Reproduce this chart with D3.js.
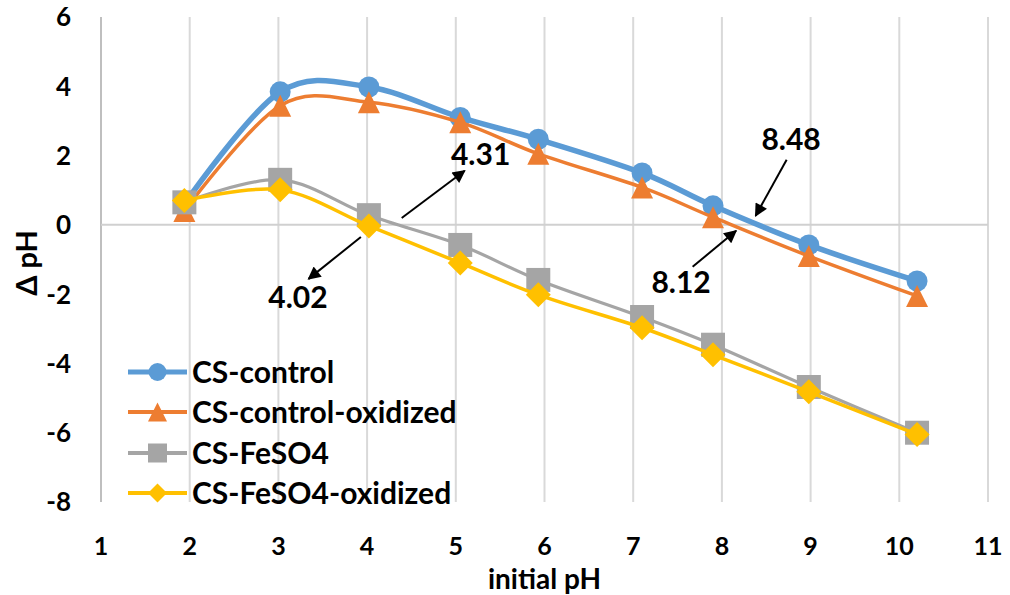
<!DOCTYPE html>
<html>
<head>
<meta charset="utf-8">
<script src="https://cdn.jsdelivr.net/npm/d3@7/dist/d3.min.js"></script>
<style>
  html, body { margin: 0; padding: 0; background: #fff; }
  svg { display: block; font-family: Lato, "Open Sans", sans-serif; font-weight: 700; }
</style>
</head>
<body>
<svg id="chart" width="1010" height="595"></svg>
<script>
// Initial pH of each run (x) and the resulting change in pH for each sample
const initialPH = [1.94, 3.02, 4.02, 5.05, 5.93, 7.1, 7.9, 8.98, 10.2];
const csControl = [0.6, 3.84, 3.98, 3.1, 2.47, 1.5, 0.55, -0.58, -1.62];
const csControlOxidized = [0.4, 3.44, 3.54, 2.96, 2.05, 1.08, 0.22, -0.9, -2.05];
const csFeSO4 = [0.65, 1.3, 0.28, -0.58, -1.59, -2.66, -3.46, -4.68, -6.0];
const csFeSO4Oxidized = [0.7, 1.01, -0.03, -1.1, -2.02, -2.97, -3.75, -4.82, -6.05];

const seriesNames = ["CS-control", "CS-control-oxidized", "CS-FeSO4", "CS-FeSO4-oxidized"];
const seriesValues = [csControl, csControlOxidized, csFeSO4, csFeSO4Oxidized];

const xTicks = [1, 2, 3, 4, 5, 6, 7, 8, 9, 10, 11];
const yTicks = [6, 4, 2, 0, -2, -4, -6, -8];

// Zero-crossing callouts: label, label anchor, arrow tail, arrow head (data units)
const calloutLabels = ["4.31", "4.02", "8.48", "8.12"];
const calloutText = [[5.28, 1.73], [3.22, -2.40], [8.78, 2.17], [7.54, -1.96]];
const calloutTail = [[4.39, 0.2], [3.93, -0.35], [8.73, 1.88], [7.67, -1.21]];
const calloutHead = [[5.10, 1.56], [3.34, -1.56], [8.38, 0.26], [8.16, -0.17]];

const styles = [
  { color: "#5B9BD5", width: 5.5, marker: "circle", size: 10.5 },
  { color: "#ED7D31", width: 3.5, marker: "triangle", size: 11 },
  { color: "#A5A5A5", width: 3.2, marker: "square", size: 12 },
  { color: "#FFC000", width: 3.5, marker: "diamond", size: 12.5 }
];

const svg = d3.select("#chart");
const x = d3.scaleLinear().domain([1, 11]).range([101, 988]);
const y = d3.scaleLinear().domain([-8, 6]).range([502, 17]);

// Marker path centred on (0,0); s = half extent
function markerPath(type, s) {
  const p = d3.path();
  if (type === "circle") {
    p.arc(0, 0, s, 0, 2 * Math.PI);
  } else if (type === "triangle") {
    p.moveTo(0, -s); p.lineTo(s, s); p.lineTo(-s, s); p.closePath();
  } else if (type === "square") {
    p.rect(-s, -s, 2 * s, 2 * s);
  } else {
    p.moveTo(0, -s); p.lineTo(s, 0); p.lineTo(0, s); p.lineTo(-s, 0); p.closePath();
  }
  return p.toString();
}

// Vertical gridlines
svg.append("g").selectAll("line").data(xTicks).join("line")
  .attr("x1", d => x(d)).attr("x2", d => x(d))
  .attr("y1", y(6)).attr("y2", y(-8))
  .attr("stroke", d => d === 1 ? "#BFBFBF" : "#D9D9D9")
  .attr("stroke-width", 2);

// Horizontal axis line at zero
svg.append("line")
  .attr("x1", x(1)).attr("x2", x(11))
  .attr("y1", y(0)).attr("y2", y(0))
  .attr("stroke", "#D0D0D0").attr("stroke-width", 2);

// Y tick labels
svg.append("g").selectAll("text").data(yTicks).join("text")
  .attr("x", 71).attr("y", d => y(d))
  .attr("dy", "0.36em")
  .attr("text-anchor", "end")
  .attr("font-size", 26)
  .text(d => d);

// X tick labels
svg.append("g").selectAll("text").data(xTicks).join("text")
  .attr("x", d => x(d)).attr("y", 555)
  .attr("text-anchor", "middle")
  .attr("font-size", 25)
  .text(d => d);

// Axis titles
svg.append("text")
  .attr("x", x(6)).attr("y", 589)
  .attr("text-anchor", "middle")
  .attr("font-size", 28)
  .text("initial pH");

svg.append("text")
  .attr("transform", `translate(37, ${y(-1.1)}) rotate(-90)`)
  .attr("text-anchor", "middle")
  .attr("font-size", 29)
  .text("Δ pH");

// Series lines and markers
const line = d3.line()
  .x((d, i) => x(initialPH[i]))
  .y(d => y(d))
  .curve(d3.curveCatmullRom.alpha(0));

seriesValues.forEach((vals, k) => {
  const st = styles[k];
  const g = svg.append("g");
  g.append("path")
    .datum(vals)
    .attr("d", line)
    .attr("fill", "none")
    .attr("stroke", st.color)
    .attr("stroke-width", st.width)
    .attr("stroke-linejoin", "round");
  g.selectAll("path.mk").data(vals).join("path")
    .attr("class", "mk")
    .attr("transform", (d, i) => `translate(${x(initialPH[i])},${y(d)})`)
    .attr("d", markerPath(st.marker, st.size))
    .attr("fill", st.color);
});

// Callout arrows
svg.append("defs").append("marker")
  .attr("id", "arrowhead")
  .attr("viewBox", "0 0 10 10")
  .attr("refX", 9).attr("refY", 5)
  .attr("markerWidth", 7.5).attr("markerHeight", 6.5)
  .attr("markerUnits", "strokeWidth")
  .attr("orient", "auto")
  .append("path")
  .attr("d", "M0,0 L10,5 L0,10 Z")
  .attr("fill", "#000");

svg.append("g").selectAll("line").data(calloutLabels).join("line")
  .attr("x1", (d, i) => x(calloutTail[i][0]))
  .attr("y1", (d, i) => y(calloutTail[i][1]))
  .attr("x2", (d, i) => x(calloutHead[i][0]))
  .attr("y2", (d, i) => y(calloutHead[i][1]))
  .attr("stroke", "#000")
  .attr("stroke-width", 2)
  .attr("marker-end", "url(#arrowhead)");

svg.append("g").selectAll("text").data(calloutLabels).join("text")
  .attr("x", (d, i) => x(calloutText[i][0]))
  .attr("y", (d, i) => y(calloutText[i][1]))
  .attr("text-anchor", "middle")
  .attr("font-size", 30)
  .text(d => d);

// Legend
const legend = svg.append("g");
const legendRowY = [372, 412, 453, 493];
seriesNames.forEach((name, k) => {
  const st = styles[k];
  const row = legend.append("g").attr("transform", `translate(0, ${legendRowY[k]})`);
  row.append("line")
    .attr("x1", 128).attr("x2", 187)
    .attr("stroke", st.color)
    .attr("stroke-width", k === 0 ? 5 : 4);
  row.append("path")
    .attr("transform", "translate(157.5, 0)")
    .attr("d", markerPath(st.marker, st.marker === "circle" ? 9 : 9.5))
    .attr("fill", st.color);
  row.append("text")
    .attr("x", 192).attr("dy", "0.36em")
    .attr("font-size", 30)
    .text(name);
});
</script>
</body>
</html>
